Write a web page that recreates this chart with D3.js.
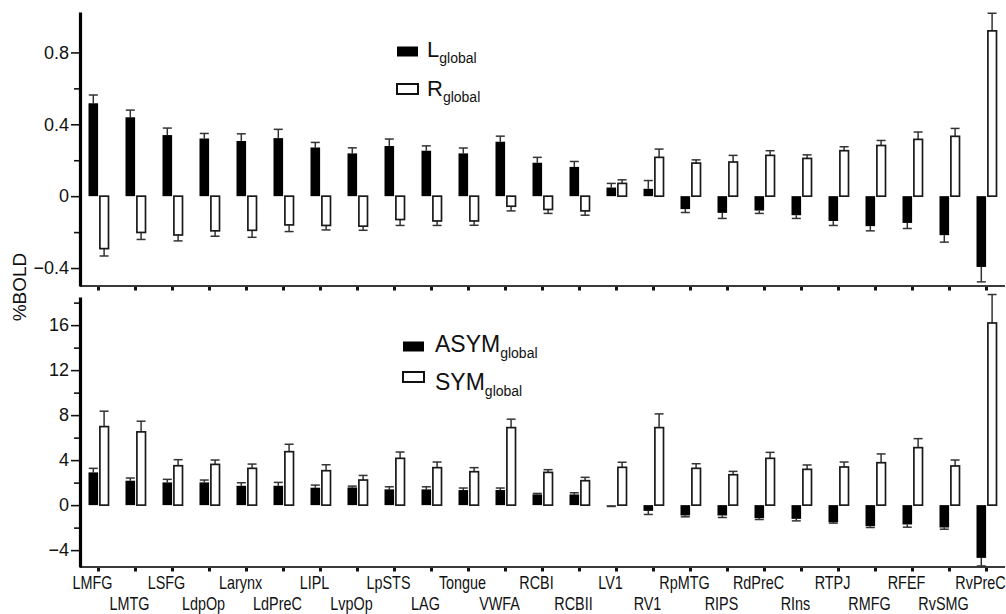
<!DOCTYPE html>
<html>
<head>
<meta charset="utf-8">
<script src="https://cdn.jsdelivr.net/npm/d3@7"></script>
<style>
  html, body { margin: 0; padding: 0; background: #fff; }
  svg { display: block; font-family: "Liberation Sans", Arial, sans-serif; }
</style>
</head>
<body>
<svg id="chart" width="1006" height="614"></svg>
<script>
// Regions of interest, in plotting order
const regions = ["LMFG","LMTG","LSFG","LdpOp","Larynx","LdPreC","LIPL","LvpOp","LpSTS","LAG",
  "Tongue","VWFA","RCBI","RCBII","LV1","RV1","RpMTG","RIPS","RdPreC","RIns","RTPJ","RMFG",
  "RFEF","RvSMG","RvPreC"];

// Upper panel: %BOLD for left / right hemisphere (global)
const lGlobal    = [0.517,0.439,0.340,0.321,0.307,0.323,0.271,0.238,0.279,0.253,0.238,0.303,0.186,
  0.163,0.048,0.041,-0.072,-0.093,-0.080,-0.106,-0.138,-0.167,-0.149,-0.217,-0.394];
const lGlobalErr = [0.046,0.040,0.039,0.028,0.040,0.049,0.028,0.031,0.039,0.027,0.030,0.031,0.030,
  0.030,0.023,0.046,0.019,0.031,0.016,0.018,0.025,0.026,0.031,0.039,0.083];
const rGlobal    = [-0.292,-0.202,-0.216,-0.193,-0.190,-0.160,-0.163,-0.167,-0.130,-0.138,-0.138,
  -0.056,-0.074,-0.082,0.071,0.216,0.184,0.190,0.227,0.210,0.253,0.282,0.316,0.333,0.920];
const rGlobalErr = [0.041,0.039,0.033,0.030,0.039,0.037,0.025,0.023,0.033,0.025,0.024,0.026,0.022,
  0.024,0.020,0.046,0.018,0.037,0.026,0.020,0.022,0.028,0.041,0.044,0.098];

// Lower panel: asymmetric / symmetric components (global)
const asymGlobal    = [2.91,2.17,2.02,2.02,1.72,1.72,1.55,1.57,1.40,1.40,1.34,1.34,0.95,0.95,
  -0.05,-0.51,-0.92,-0.92,-1.16,-1.22,-1.52,-1.87,-1.72,-1.99,-4.69];
const asymGlobalErr = [0.36,0.24,0.27,0.21,0.27,0.30,0.23,0.12,0.23,0.23,0.18,0.18,0.09,0.15,
  0.07,0.32,0.12,0.18,0.12,0.18,0.08,0.12,0.24,0.15,0.72];
const symGlobal     = [6.98,6.51,3.50,3.62,3.27,4.75,3.06,2.23,4.16,3.33,2.97,6.89,2.91,2.17,
  3.36,6.89,3.27,2.70,4.16,3.18,3.39,3.77,5.11,3.48,16.19];
const symGlobalErr  = [1.37,0.95,0.54,0.39,0.38,0.66,0.53,0.41,0.56,0.50,0.36,0.75,0.24,0.30,
  0.45,1.22,0.41,0.30,0.53,0.39,0.44,0.78,0.80,0.53,2.53];

// Axis ticks
const topMajorTicks = [-0.4, 0, 0.4, 0.8];
const topMinorTicks = [-0.2, 0.2, 0.6];
const botMajorTicks = [-4, 0, 4, 8, 12, 16];
const botMinorTicks = [-2, 2, 6, 10, 14, 18];

const svg = d3.select("#chart");
const x0 = 80, x1 = 1005;

const x = d3.scaleBand().domain(regions).range([x0, x1]).padding(0);
const cx = d => x(d) + x.bandwidth() / 2;

const yTop = d3.scaleLinear().domain([-0.5, 1.025]).range([286, 12]);
const yBot = d3.scaleLinear().domain([-5.5, 18.5]).range([567, 297]);

function panel(y, darkVals, darkErr, lightVals, lightErr, major, minor, fmt) {
  const g = svg.append("g");

  // horizontal base axis with small square ticks
  const base = y.range()[0];
  g.append("line").attr("x1", x0).attr("x2", x1).attr("y1", base).attr("y2", base)
    .attr("stroke", "#3a3a3a").attr("stroke-width", 2);
  g.selectAll("rect.xt").data(regions).join("rect").attr("class", "xt")
    .attr("x", d => cx(d) - 1.5).attr("y", base + 1).attr("width", 3).attr("height", 3.5)
    .attr("fill", "#111");

  const rows = regions.map((r, i) => ({
    r, dv: darkVals[i], de: darkErr[i], lv: lightVals[i], le: lightErr[i]
  }));

  // error bars (drawn away from zero)
  function errBars(cls, getX, getV, getE) {
    const eg = g.append("g").attr("class", cls).attr("stroke", "#333").attr("stroke-width", 1.5);
    rows.forEach(d => {
      const v = getV(d), e = getE(d);
      const end = v >= 0 ? v + e : v - e;
      const xc = getX(d);
      eg.append("line").attr("x1", xc).attr("x2", xc).attr("y1", y(v)).attr("y2", y(end));
      eg.append("line").attr("x1", xc - 4.5).attr("x2", xc + 4.5).attr("y1", y(end)).attr("y2", y(end));
    });
  }
  errBars("err-dark", d => cx(d.r) - 5.2, d => d.dv, d => d.de);
  errBars("err-light", d => cx(d.r) + 5.6, d => d.lv, d => d.le);

  // dark bars
  g.selectAll("rect.dark").data(rows).join("rect").attr("class", "dark")
    .attr("x", d => cx(d.r) - 10).attr("width", 9.6)
    .attr("y", d => Math.min(y(d.dv), y(0)))
    .attr("height", d => Math.abs(y(d.dv) - y(0)))
    .attr("fill", "#000");

  // light (outlined) bars
  g.selectAll("rect.light").data(rows).join("rect").attr("class", "light")
    .attr("x", d => cx(d.r) + 1.4).attr("width", 8.6)
    .attr("y", d => Math.min(y(d.lv), y(0)))
    .attr("height", d => Math.abs(y(d.lv) - y(0)))
    .attr("fill", "#fff").attr("stroke", "#1a1a1a").attr("stroke-width", 1.7);

  // vertical axis: minor then major ticks
  g.append("g").attr("transform", `translate(${x0},0)`)
    .call(d3.axisLeft(y).tickValues(minor).tickSize(6).tickSizeOuter(0).tickFormat(""))
    .call(a => a.select(".domain").remove())
    .call(a => a.selectAll(".tick line").attr("stroke", "#111").attr("stroke-width", 1.6));
  const ax = g.append("g").attr("transform", `translate(${x0},0)`)
    .call(d3.axisLeft(y).tickValues(major).tickSize(9).tickSizeOuter(0).tickPadding(2).tickFormat(fmt));
  ax.select(".domain").attr("stroke", "#000").attr("stroke-width", 3.2);
  ax.selectAll(".tick line").attr("stroke", "#111").attr("stroke-width", 1.6);
  ax.selectAll(".tick text").attr("font-size", 18).attr("fill", "#111")
    .attr("font-family", "'Liberation Sans', Arial, sans-serif");
  return g;
}

panel(yTop, lGlobal, lGlobalErr, rGlobal, rGlobalErr, topMajorTicks, topMinorTicks,
  d => d === 0 ? "0" : d3.format(".1f")(d).replace("-", "\u2212"));
panel(yBot, asymGlobal, asymGlobalErr, symGlobal, symGlobalErr, botMajorTicks, botMinorTicks,
  d => d3.format("d")(d).replace("-", "\u2212"));

// category labels under the lower panel, staggered over two rows (condensed face)
const labelShift = -6;
svg.append("g").selectAll("text").data(regions).join("text")
  .attr("transform", (d, i) => `translate(${cx(d) + labelShift},${i % 2 === 0 ? 589 : 610}) scale(0.8,1)`)
  .attr("text-anchor", "middle").attr("font-size", 18).attr("fill", "#111")
  .text(d => d);

// shared y-axis title
svg.append("text")
  .attr("transform", "translate(26,287) rotate(-90)")
  .attr("text-anchor", "middle").attr("font-size", 19).attr("fill", "#111")
  .text("%BOLD");

// legends
function legendItem(xr, yr, filled, main, sub, tx, ty, size) {
  svg.append("rect").attr("x", xr).attr("y", yr).attr("width", 21).attr("height", 10)
    .attr("fill", filled ? "#000" : "#fff").attr("stroke", filled ? "none" : "#111")
    .attr("stroke-width", 2);
  const t = svg.append("text").attr("x", tx).attr("y", ty).attr("font-size", size).attr("fill", "#111");
  t.append("tspan").text(main);
  t.append("tspan").attr("font-size", 14).attr("dy", 6).text(sub);
}
legendItem(397, 46.5, true, "L", "global", 427, 57, 22);
legendItem(397, 84, false, "R", "global", 427, 96, 22);
legendItem(403, 341.5, true, "ASYM", "global", 435, 352, 23);
legendItem(403, 372, false, "SYM", "global", 435, 390, 23);
</script>
</body>
</html>
